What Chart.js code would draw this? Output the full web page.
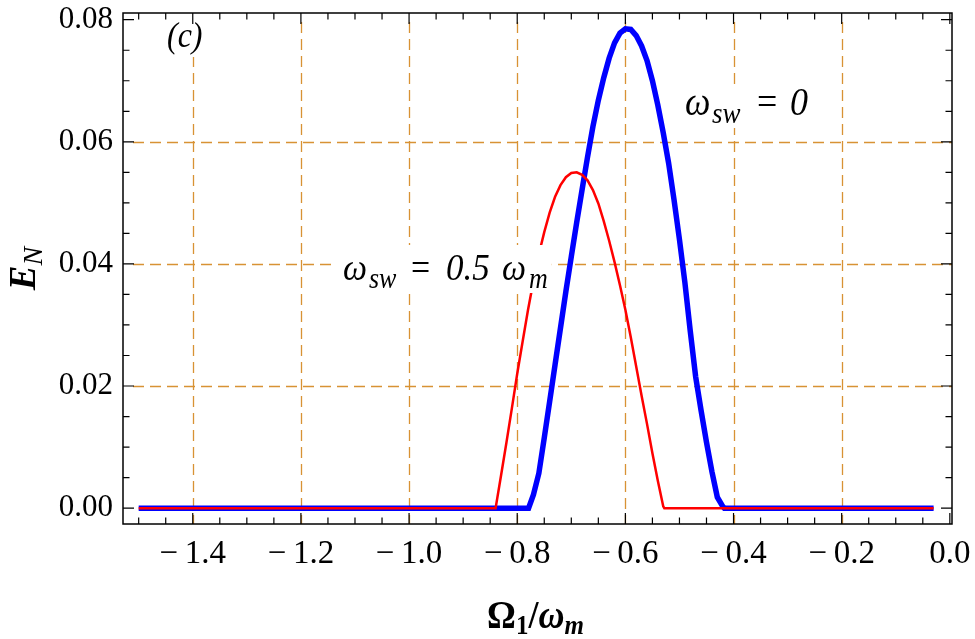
<!DOCTYPE html>
<html>
<head>
<meta charset="utf-8">
<script src="https://cdn.jsdelivr.net/npm/chart.js@4.4.1/dist/chart.umd.min.js"></script>
<style>
  html, body { margin: 0; padding: 0; background: #fff; }
  #wrap { width: 975px; height: 639px; }
</style>
</head>
<body>
<div id="wrap"><canvas id="c" width="975" height="639"></canvas></div>
<script>
// omega_sw = 0  (thick blue)
const blueX = [-1.50, -0.779, -0.77, -0.76, -0.75, -0.74, -0.73, -0.72, -0.71, -0.70, -0.69, -0.68, -0.67,
  -0.66, -0.65, -0.64, -0.63, -0.62, -0.61, -0.60, -0.59, -0.58, -0.57, -0.56, -0.55, -0.54, -0.53,
  -0.52, -0.51, -0.50, -0.49, -0.48, -0.47, -0.46, -0.45, -0.44, -0.43, -0.42, -0.417, -0.03];
const blueY = [0, 0, 0.0022, 0.0057, 0.0115, 0.0175, 0.0235, 0.0295, 0.0355, 0.0412, 0.0468, 0.0522, 0.0575,
  0.0625, 0.0668, 0.0705, 0.0737, 0.0762, 0.0778, 0.0785, 0.0784, 0.0774, 0.0757, 0.0733, 0.0700, 0.0660, 0.0615,
  0.0565, 0.0505, 0.0440, 0.0370, 0.0290, 0.0215, 0.0160, 0.0108, 0.0060, 0.0018, 0.0003, 0, 0];

// omega_sw = 0.5 omega_m  (thin red)
const redX = [-1.50, -0.84, -0.83, -0.82, -0.81, -0.80, -0.79, -0.78, -0.77, -0.76, -0.75, -0.74, -0.73,
  -0.72, -0.71, -0.70, -0.69, -0.68, -0.67, -0.66, -0.65, -0.64, -0.63, -0.62, -0.61, -0.60, -0.59,
  -0.58, -0.57, -0.56, -0.55, -0.54, -0.53, -0.528, -0.03];
const redY = [0, 0, 0.0053, 0.0107, 0.0163, 0.0220, 0.0273, 0.0325, 0.0372, 0.0416, 0.0452, 0.0484, 0.0510,
  0.0529, 0.0542, 0.0549, 0.0550, 0.0546, 0.0537, 0.0521, 0.0499, 0.0470, 0.0438, 0.0403, 0.0365, 0.0325, 0.0280,
  0.0232, 0.0184, 0.0138, 0.0090, 0.0045, 0.0003, 0, 0];

const xTicks = [-1.4, -1.2, -1.0, -0.8, -0.6, -0.4, -0.2, 0.0];
const yTicks = [0.00, 0.02, 0.04, 0.06, 0.08];
const xGrid = [-1.4, -1.2, -1.0, -0.8, -0.6, -0.4, -0.2];
const yGrid = [0.02, 0.04, 0.06];
const xMinor = 0.05, yMinor = 0.005;

const SERIF = '"Liberation Serif", "DejaVu Serif", serif';
const f = (style, size) => style + ' ' + size + 'px ' + SERIF;
const STRETCH = 1.1; // the source figure is a little taller than wide

function pts(xs, ys) { return xs.map((x, i) => ({ x: x, y: ys[i] })); }

// text runs: [text, font, dy, dx]; dx given = place at that offset, else flow on
function runs(ctx, x, y, list, stretch) {
  ctx.save();
  ctx.translate(x, y);
  ctx.scale(1, stretch || 1);
  let cx = 0;
  list.forEach(r => {
    ctx.font = r[1];
    if (r[3] !== undefined) cx = r[3];
    ctx.fillText(r[0], cx, r[2] || 0);
    cx += ctx.measureText(r[0]).width;
  });
  ctx.restore();
  return cx;
}
function runsWidth(ctx, list) {
  let w = 0;
  list.forEach(r => { ctx.font = r[1]; if (r[3] !== undefined) w = r[3]; w += ctx.measureText(r[0]).width; });
  return w;
}

const labelPlugin = {
  id: 'labels',
  afterDatasetsDraw(chart) {
    const ctx = chart.ctx;
    const a = chart.chartArea;
    ctx.save();
    ctx.textBaseline = 'alphabetic';
    ctx.textAlign = 'left';
    const items = [
      { x: 167, y: 47, top: 47 - a.top - 1, bot: 10, list: [['(c)', f('italic', 32)]] },
      { x: 685, y: 115, top: 30, bot: 13, list: [['ω', f('italic', 36)], ['sw', f('italic', 27), 7, 27],
        ['=', f('', 36), 0, 72], ['0', f('italic', 36), 0, 105]] },
      { x: 343, y: 280, top: 35, bot: 13, list: [['ω', f('italic', 34)], ['sw', f('italic', 26), 7, 26],
        ['=', f('', 34), 0, 68], ['0.5', f('italic', 35), 0, 103], ['ω', f('italic', 34), 0, 159],
        ['m', f('italic', 26), 7, 186]] }
    ];
    items.forEach(it => {
      const w = runsWidth(ctx, it.list);
      ctx.fillStyle = '#fff';
      ctx.fillRect(it.x - 6, it.y - it.top, w + 10, it.top + it.bot);
      ctx.fillStyle = '#000';
      runs(ctx, it.x, it.y, it.list, STRETCH);
    });
    ctx.restore();
  }
};

const gridPlugin = {
  id: 'dashgrid',
  beforeDatasetsDraw(chart) {
    const { ctx, chartArea: a, scales: { x, y } } = chart;
    ctx.save();
    ctx.strokeStyle = 'rgb(216,146,52)';
    ctx.lineWidth = 1.3;
    ctx.setLineDash([11, 6]);
    xGrid.forEach(v => {
      const px = Math.round(x.getPixelForValue(v)) + 0.5;
      ctx.beginPath(); ctx.moveTo(px, a.top + 9); ctx.lineTo(px, a.bottom); ctx.stroke();
    });
    yGrid.forEach(v => {
      const py = Math.round(y.getPixelForValue(v)) + 0.5;
      ctx.beginPath(); ctx.moveTo(a.left + 10, py); ctx.lineTo(a.right, py); ctx.stroke();
    });
    ctx.restore();
  }
};

const framePlugin = {
  id: 'frame',
  afterDraw(chart) {
    const { ctx, chartArea: a, scales: { x, y } } = chart;
    ctx.save();
    ctx.strokeStyle = '#000';
    ctx.lineWidth = 1.5;
    ctx.setLineDash([]);
    ctx.strokeRect(a.left, a.top, a.right - a.left, a.bottom - a.top);
    ctx.lineWidth = 1.2;
    ctx.beginPath();
    for (let k = Math.ceil(x.min / xMinor); k * xMinor <= x.max + 1e-9; k++) {
      const v = k * xMinor;
      const major = Math.abs(v / 0.2 - Math.round(v / 0.2)) < 1e-6;
      const len = major ? 11 : 6.5;
      const px = x.getPixelForValue(v);
      ctx.moveTo(px, a.bottom); ctx.lineTo(px, a.bottom - len);
      ctx.moveTo(px, a.top); ctx.lineTo(px, a.top + len);
    }
    for (let k = Math.ceil(y.min / yMinor); k * yMinor <= y.max + 1e-9; k++) {
      const v = k * yMinor;
      const major = Math.abs(v / 0.02 - Math.round(v / 0.02)) < 1e-6;
      const len = major ? 11 : 6.5;
      const py = y.getPixelForValue(v);
      ctx.moveTo(a.left, py); ctx.lineTo(a.left + len, py);
      ctx.moveTo(a.right, py); ctx.lineTo(a.right - len, py);
    }
    ctx.stroke();

    // axis titles
    ctx.fillStyle = '#000';
    ctx.textBaseline = 'alphabetic';
    const xt = [['Ω', f('bold', 36)], ['1', f('bold', 25), 5], ['/', f('bold', 36)],
      ['ω', f('bold italic', 36)], ['m', f('bold italic', 25), 5]];
    const xw = runsWidth(ctx, xt);
    runs(ctx, (a.left + a.right) / 2 - xw / 2 - 2, 628, xt, STRETCH);

    const yt = [['E', f('bold italic', 37)], ['N', f('italic', 28), 7]];
    const yw = runsWidth(ctx, yt);
    ctx.translate(35, (a.top + a.bottom) / 2);
    ctx.rotate(-Math.PI / 2);
    runs(ctx, -yw / 2, 0, yt, 1);
    ctx.restore();
  }
};

const fmt = (v, d) => {
  const s = Math.abs(v).toFixed(d);
  return v < -1e-9 ? '\u2212\u2009' + s : s;
};

new Chart(document.getElementById('c'), {
  type: 'line',
  data: {
    datasets: [
      {
        label: 'ω_sw = 0.5 ω_m',
        data: pts(redX, redY),
        borderColor: '#ff0000',
        borderWidth: 2.5,
        pointRadius: 0,
        tension: 0,
        fill: false,
        order: 0
      },
      {
        label: 'ω_sw = 0',
        data: pts(blueX, blueY),
        borderColor: '#0000ff',
        borderWidth: 5.5,
        pointRadius: 0,
        tension: 0,
        fill: false,
        order: 1
      }
    ]
  },
  options: {
    responsive: false,
    animation: false,
    devicePixelRatio: 1,
    layout: { padding: { top: 13, right: 23, left: 0, bottom: 0 } },
    plugins: { legend: { display: false }, tooltip: { enabled: false } },
    scales: {
      x: {
        type: 'linear',
        min: -1.529,
        max: 0.004,
        afterBuildTicks: s => { s.ticks = xTicks.map(v => ({ value: v })); },
        afterFit: s => { s.height = 115; s.paddingLeft = 0; s.paddingRight = 0; },
        grid: { display: false, drawTicks: false },
        border: { display: false },
        ticks: {
          autoSkip: false, maxRotation: 0, padding: 11, color: '#000',
          font: { family: SERIF, size: 33 },
          callback: v => fmt(v, 1)
        }
      },
      y: {
        type: 'linear',
        min: -0.0026,
        max: 0.0811,
        afterBuildTicks: s => { s.ticks = yTicks.map(v => ({ value: v })); },
        afterFit: s => { s.width = 123; s.paddingTop = 0; s.paddingBottom = 0; },
        grid: { display: false, drawTicks: false },
        border: { display: false },
        ticks: {
          autoSkip: false, padding: 10, color: '#000',
          font: { family: SERIF, size: 31 },
          callback: v => fmt(v, 2)
        }
      }
    }
  },
  plugins: [gridPlugin, labelPlugin, framePlugin]
});
</script>
</body>
</html>
